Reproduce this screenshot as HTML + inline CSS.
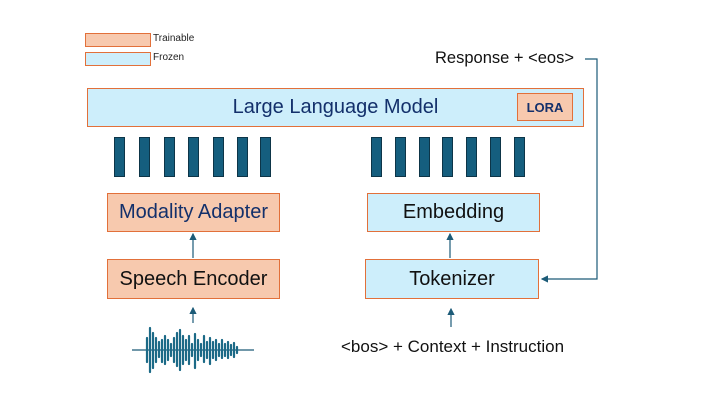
<!DOCTYPE html>
<html><head><meta charset="utf-8"><style>
body{margin:0;width:720px;height:405px;background:#fff;position:relative;overflow:hidden;font-family:"Liberation Sans",sans-serif}
.b{position:absolute;box-sizing:border-box;border:1.5px solid #e2703a;display:flex;align-items:center;justify-content:center}
.t{background:#f7c9ae}.f{background:#cdeefb}
.bar{position:absolute;width:11px;height:40px;background:#155e7e;border:1px solid #0d3548;box-sizing:border-box;top:137px}
.l{position:absolute;font-size:10px;color:#222}
</style></head><body>
<div class="b t" style="left:85px;top:33px;width:66px;height:14px"></div>
<div class="b f" style="left:85px;top:52px;width:66px;height:14px"></div>
<div class="l" style="left:153px;top:33px">Trainable</div>
<div class="l" style="left:153px;top:52px">Frozen</div>
<div class="b f" style="left:87px;top:88px;width:497px;height:39px;color:#13306b;font-size:20px">Large Language Model</div>
<div class="b t" style="left:517px;top:93px;width:56px;height:28px;color:#13306b;font-size:13px;font-weight:bold">LORA</div>
<div class="bar" style="left:114px"></div><div class="bar" style="left:139px"></div><div class="bar" style="left:164px"></div><div class="bar" style="left:188px"></div><div class="bar" style="left:213px"></div><div class="bar" style="left:237px"></div><div class="bar" style="left:260px"></div>
<div class="bar" style="left:371px"></div><div class="bar" style="left:395px"></div><div class="bar" style="left:419px"></div><div class="bar" style="left:442px"></div><div class="bar" style="left:466px"></div><div class="bar" style="left:490px"></div><div class="bar" style="left:514px"></div>
<div class="b t" style="left:107px;top:193px;width:173px;height:39px;color:#13306b;font-size:20px">Modality Adapter</div>
<div class="b t" style="left:107px;top:259px;width:173px;height:40px;color:#111;font-size:20px">Speech Encoder</div>
<div class="b f" style="left:367px;top:193px;width:173px;height:39px;color:#111;font-size:20px">Embedding</div>
<div class="b f" style="left:365px;top:259px;width:174px;height:40px;color:#111;font-size:20px">Tokenizer</div>
<div style="position:absolute;left:435px;top:49px;font-size:16.5px;color:#111">Response + &lt;eos&gt;</div>
<div style="position:absolute;left:341px;top:337px;font-size:17px;color:#111">&lt;bos&gt; + Context + Instruction</div>
<svg width="720" height="405" style="position:absolute;left:0;top:0">
<defs><marker id="a" markerWidth="6" markerHeight="6" refX="5" refY="3" orient="auto"><path d="M0,0L6,3L0,6z" fill="#1c5b78"/></marker></defs>
<g stroke="#1c5b78" stroke-width="1.2" fill="none">
<line x1="193" y1="258" x2="193" y2="234" marker-end="url(#a)"/>
<line x1="193" y1="323" x2="193" y2="308" marker-end="url(#a)"/>
<line x1="450" y1="258" x2="450" y2="234" marker-end="url(#a)"/>
<line x1="451" y1="327" x2="451" y2="309" marker-end="url(#a)"/>
<polyline points="585,59 597,59 597,279 542,279" marker-end="url(#a)"/>
<line x1="132" y1="350" x2="254" y2="350"/>
</g>
<g stroke="#1c6a87" stroke-width="2.2" stroke-linecap="round">
<line x1="147" y1="338" x2="147" y2="362"/><line x1="150" y1="328" x2="150" y2="372"/><line x1="153" y1="333" x2="153" y2="368"/><line x1="156" y1="338" x2="156" y2="362"/><line x1="159" y1="342" x2="159" y2="357"/><line x1="162" y1="340" x2="162" y2="362"/><line x1="165" y1="336" x2="165" y2="364"/><line x1="168" y1="340" x2="168" y2="360"/><line x1="171" y1="344" x2="171" y2="356"/><line x1="174" y1="338" x2="174" y2="362"/><line x1="177" y1="333" x2="177" y2="366"/><line x1="180" y1="330" x2="180" y2="370"/><line x1="183" y1="336" x2="183" y2="364"/><line x1="186" y1="340" x2="186" y2="360"/><line x1="189" y1="336" x2="189" y2="364"/><line x1="192" y1="344" x2="192" y2="356"/><line x1="195" y1="334" x2="195" y2="368"/><line x1="198" y1="340" x2="198" y2="360"/><line x1="201" y1="344" x2="201" y2="356"/><line x1="204" y1="336" x2="204" y2="362"/><line x1="207" y1="342" x2="207" y2="358"/><line x1="210" y1="338" x2="210" y2="364"/><line x1="213" y1="342" x2="213" y2="358"/><line x1="216" y1="340" x2="216" y2="360"/><line x1="219" y1="344" x2="219" y2="356"/><line x1="222" y1="340" x2="222" y2="358"/><line x1="225" y1="344" x2="225" y2="356"/><line x1="228" y1="342" x2="228" y2="358"/><line x1="231" y1="345" x2="231" y2="355"/><line x1="234" y1="343" x2="234" y2="357"/><line x1="237" y1="347" x2="237" y2="353"/>
</g>
</svg>
</body></html>
